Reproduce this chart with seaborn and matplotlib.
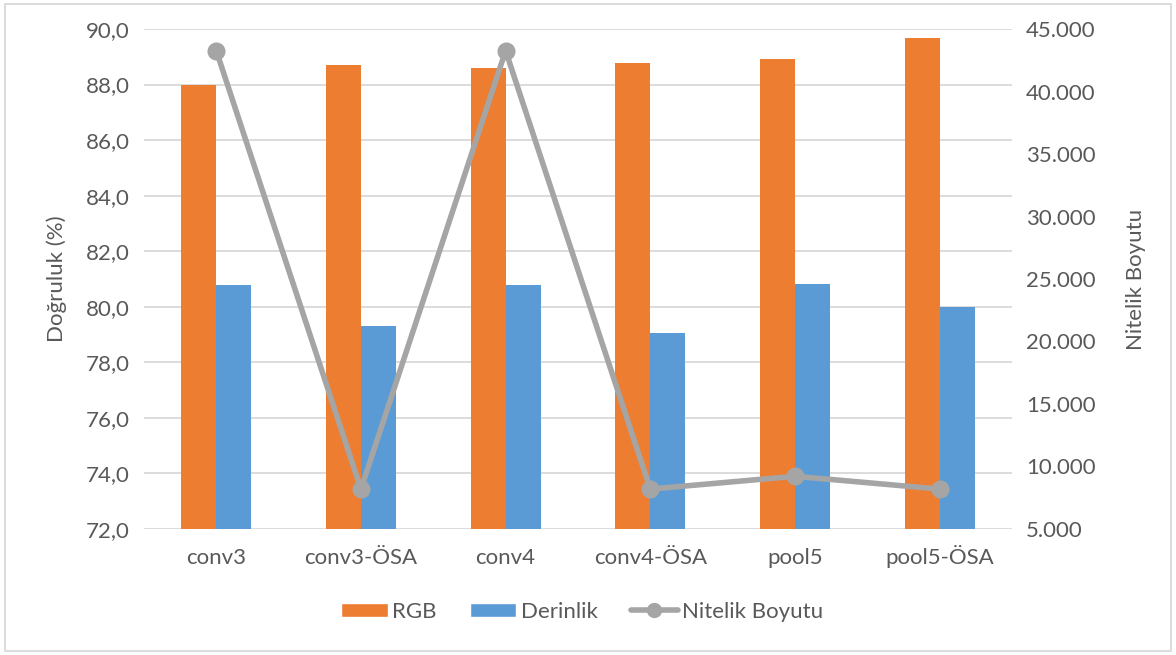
import pandas as pd
import numpy as np
import seaborn as sns
import matplotlib.pyplot as plt
from matplotlib.ticker import FuncFormatter, MultipleLocator
from matplotlib.lines import Line2D
from matplotlib.patches import Patch, Rectangle

# veriler
katmanlar = ["conv3", "conv3-ÖSA", "conv4", "conv4-ÖSA", "pool5", "pool5-ÖSA"]
rgb = [88.0, 88.7, 88.6, 88.78, 88.93, 89.68]
derinlik = [80.8, 79.3, 80.77, 79.05, 80.82, 79.98]
nitelik_boyutu = [43264, 8192, 43264, 8192, 9216, 8192]

TURUNCU = "#ed7d31"
MAVI = "#5b9bd5"
GRI = "#a5a5a5"
YAZI = "#595959"

sns.set_theme(style="white")
plt.rcParams["font.family"] = ["Lato", "DejaVu Sans"]

df = pd.DataFrame({
    "katman": katmanlar * 2,
    "seri": ["RGB"] * 6 + ["Derinlik"] * 6,
    "deger": rgb + derinlik,
})
df_boyut = pd.DataFrame({"katman": katmanlar, "boyut": nitelik_boyutu})

fig = plt.figure(figsize=(11.76, 6.55), dpi=100)
ax = fig.add_axes([0.1224, 0.1924, 0.7381, 0.7633])

sns.barplot(data=df, x="katman", y="deger", hue="seri", order=katmanlar,
            hue_order=["RGB", "Derinlik"], palette=[TURUNCU, MAVI], saturation=1,
            width=0.485, gap=0, linewidth=0, ax=ax, legend=False)
ax.set_ylim(72, 90)
ax.yaxis.set_major_locator(MultipleLocator(2))
ax.yaxis.set_major_formatter(FuncFormatter(lambda v, p: f"{v:.1f}".replace(".", ",")))
ax.grid(axis="y", color="#d9d9d9", linewidth=1.3)
ax.set_axisbelow(True)
for s in ax.spines.values():
    s.set_visible(False)
ax.set_xlabel("")
ax.set_ylabel("Doğruluk (%)", fontsize=16, color=YAZI, labelpad=14)
ax.tick_params(axis="both", length=0, labelsize=16, labelcolor=YAZI, pad=10)
ax.tick_params(axis="x", pad=25)
for t in ax.get_xticklabels():
    t.set_verticalalignment("baseline")

ax2 = ax.twinx()
sns.pointplot(data=df_boyut, x="katman", y="boyut", order=katmanlar,
              color=GRI, markers="o", markersize=10, linewidth=4, ax=ax2)
ax2.set_ylim(5000, 45000)
ax2.yaxis.set_major_locator(MultipleLocator(5000))
ax2.yaxis.set_major_formatter(FuncFormatter(lambda v, p: f"{int(v):,}".replace(",", ".")))
for s in ax2.spines.values():
    s.set_visible(False)
ax2.grid(False)
ax2.set_xlabel("")
ax2.set_ylabel("Nitelik Boyutu", fontsize=16, color=YAZI, labelpad=22)
ax2.tick_params(axis="y", length=0, labelsize=16, labelcolor=YAZI, pad=10)

handles = [
    Patch(facecolor=TURUNCU, label="RGB"),
    Patch(facecolor=MAVI, label="Derinlik"),
    Line2D([0], [0], color=GRI, linewidth=4, marker="o", markersize=10,
           label="Nitelik Boyutu"),
]
fig.legend(handles=handles, loc="center", bbox_to_anchor=(0.495, 0.066), ncol=3,
           frameon=False, fontsize=16, labelcolor=YAZI, handlelength=2.1,
           handleheight=0.55, handletextpad=0.2, columnspacing=1.5)

fig.patches.append(Rectangle((0.004, 0.006), 0.992, 0.988, transform=fig.transFigure,
                             fill=False, edgecolor="#d9d9d9", linewidth=1.3))

fig.savefig("out.png", dpi=100)
